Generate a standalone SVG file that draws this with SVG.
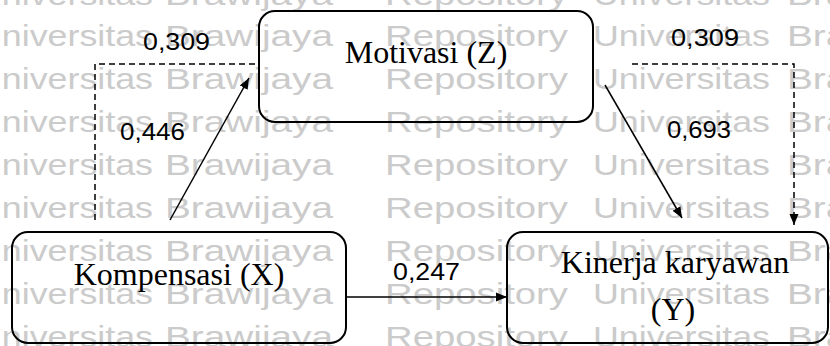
<svg xmlns="http://www.w3.org/2000/svg" xmlns:xlink="http://www.w3.org/1999/xlink" width="830" height="346" viewBox="0 0 830 346">
  <style>
    .wm { font-family: "Liberation Sans", Arial, sans-serif; font-size: 30px; fill: #cbcbcb; }
    .box { fill: none; stroke: #000; stroke-width: 2; }
    .lbl { font-family: "Liberation Serif", "Times New Roman", serif; font-size: 32px; fill: #000; text-anchor: middle; }
    .coef { font-family: "Liberation Sans", Arial, sans-serif; font-size: 23px; fill: #000; }
    .solid { fill: none; stroke: #000; stroke-width: 1.5; }
    .dash { fill: none; stroke: #000; stroke-width: 1.5; stroke-dasharray: 6 4; }
  </style>
  <defs>
    <marker id="arr" markerUnits="userSpaceOnUse" markerWidth="11" markerHeight="10" refX="11" refY="5" orient="auto">
      <path d="M0,0.5 L11,5 L0,9.5 z" fill="#000"/>
    </marker>
    <g id="wmrow">
      <text class="wm" x="-24" y="0" textLength="177" lengthAdjust="spacingAndGlyphs">Universitas</text>
      <text class="wm" x="165" y="0" textLength="168" lengthAdjust="spacingAndGlyphs">Brawijaya</text>
      <text class="wm" x="385" y="0" textLength="183" lengthAdjust="spacingAndGlyphs">Repository</text>
      <text class="wm" x="593" y="0" textLength="177" lengthAdjust="spacingAndGlyphs">Universitas</text>
      <text class="wm" x="787" y="0" textLength="168" lengthAdjust="spacingAndGlyphs">Brawijaya</text>
    </g>
  </defs>
  <rect x="0" y="0" width="830" height="346" fill="#fff"/>
  <g id="watermark">
    <use xlink:href="#wmrow" href="#wmrow" x="0" y="5"/>
    <use xlink:href="#wmrow" href="#wmrow" x="0" y="45.5"/>
    <use xlink:href="#wmrow" href="#wmrow" x="0" y="89"/>
    <use xlink:href="#wmrow" href="#wmrow" x="0" y="132"/>
    <use xlink:href="#wmrow" href="#wmrow" x="0" y="175"/>
    <use xlink:href="#wmrow" href="#wmrow" x="0" y="218"/>
    <use xlink:href="#wmrow" href="#wmrow" x="0" y="261"/>
    <use xlink:href="#wmrow" href="#wmrow" x="0" y="304"/>
    <use xlink:href="#wmrow" href="#wmrow" x="0" y="347"/>
  </g>
  <g id="connectors">
    <polyline class="dash" points="95,220 95,64 259,64"/>
    <line class="solid" x1="170" y1="220" x2="249" y2="78" marker-end="url(#arr)"/>
    <line class="solid" x1="605" y1="85" x2="682" y2="218" marker-end="url(#arr)"/>
    <polyline class="dash" points="632,64 794,64 794,225" marker-end="url(#arr)"/>
    <line class="solid" x1="346" y1="297" x2="507" y2="297" marker-end="url(#arr)"/>
  </g>
  <g id="coefficients">
    <text class="coef" x="143" y="50" textLength="67" lengthAdjust="spacingAndGlyphs">0,309</text>
    <text class="coef" x="120" y="140" textLength="65" lengthAdjust="spacingAndGlyphs">0,446</text>
    <text class="coef" x="671" y="46" textLength="68" lengthAdjust="spacingAndGlyphs">0,309</text>
    <text class="coef" x="667" y="138" textLength="64" lengthAdjust="spacingAndGlyphs">0,693</text>
    <text class="coef" x="393" y="280" textLength="67" lengthAdjust="spacingAndGlyphs">0,247</text>
  </g>
  <g id="node-Z">
    <rect class="box" x="259" y="11" width="334" height="111" rx="16" ry="16"/>
    <text class="lbl" x="426" y="63">Motivasi (Z)</text>
  </g>
  <g id="node-X">
    <rect class="box" x="12" y="232" width="334" height="111" rx="16" ry="16"/>
    <text class="lbl" x="179" y="285">Kompensasi (X)</text>
  </g>
  <g id="node-Y">
    <rect class="box" x="507" y="232" width="321" height="111" rx="16" ry="16"/>
    <text class="lbl" x="675" y="273">Kinerja karyawan</text>
    <text class="lbl" x="673" y="320">(Y)</text>
  </g>
</svg>
